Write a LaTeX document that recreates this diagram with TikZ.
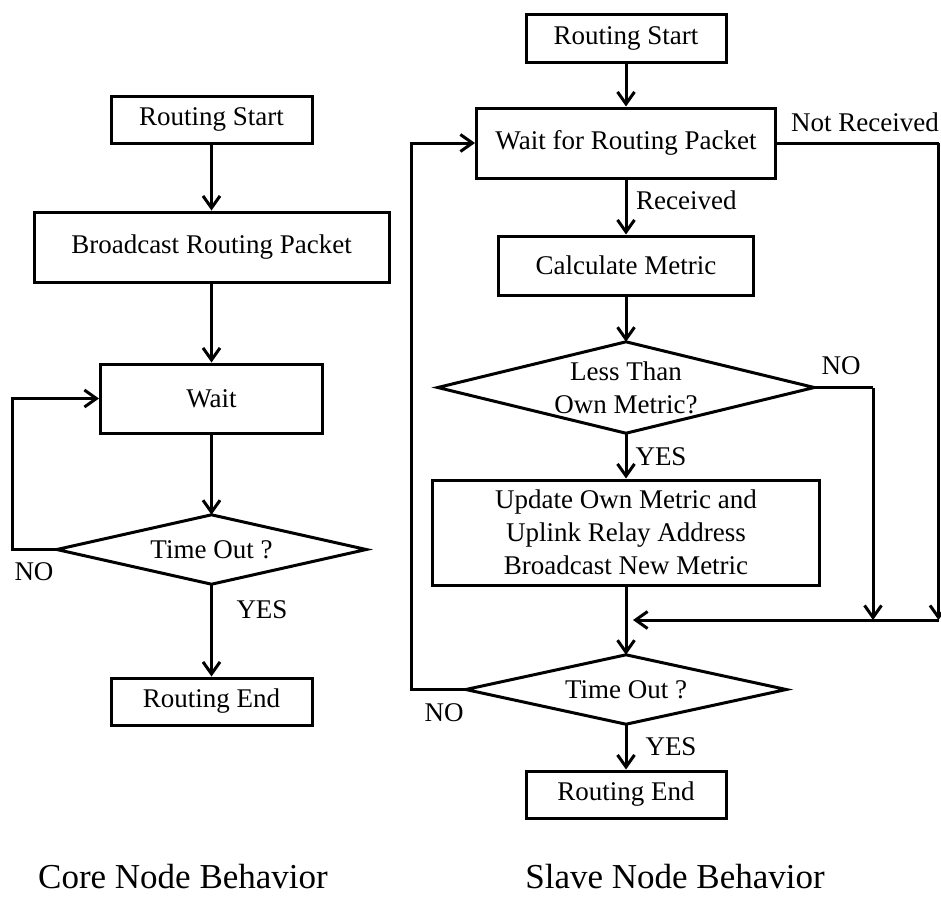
\documentclass[tikz,border=0pt]{standalone}
\usepackage{fontspec}
\setmainfont{Liberation Serif}
\usetikzlibrary{arrows.meta}
\begin{document}
\begin{tikzpicture}[x=1pt,y=-1pt,
  every node/.style={font=\fontsize{27pt}{33pt}\selectfont},
  stepbox/.style={draw, line width=3pt, inner sep=0pt, align=center},
  decision/.style={inner sep=0pt, align=center},
  edgetext/.style={inner sep=0pt},
  flow/.style={line width=3pt, -{Straight Barb[length=12pt,width=17pt]}},
  wire/.style={line width=3pt},
  caption/.style={inner sep=0pt, font=\fontsize{35pt}{40pt}\selectfont}]
\useasboundingbox (0,0) rectangle (941,898);

% ---------- core node ----------
\node[stepbox, minimum width=201pt, minimum height=47pt] (lstart) at (211.5,119.5) {Routing Start};
\node[stepbox, minimum width=355pt, minimum height=70pt] (lbcast) at (211.5,247) {Broadcast Routing Packet};
\node[stepbox, minimum width=222pt, minimum height=69pt] (lwait) at (211.5,398.5) {Wait};
\node[decision, minimum width=309pt, minimum height=69pt] (ltime) at (211.5,549.5) {Time Out ?};
\draw[wire] (ltime.north) -- (ltime.east) -- (ltime.south) -- (ltime.west) -- cycle;
\node[stepbox, minimum width=201pt, minimum height=47pt] (lend) at (211.5,701.5) {Routing End};

\draw[flow] (lstart) -- (lbcast);
\draw[flow] (lbcast) -- (lwait);
\draw[flow] (lwait) -- (ltime.north);
\draw[flow] (ltime.south) -- (lend.north);
\coordinate (lloop) at (12,549.5);
\draw[flow] (ltime.west) -- (lloop) |- (lwait.west);

\node[edgetext] (lno) at (34,572) {NO};
\node[edgetext] (lyes) at (262,610) {YES};

% ---------- slave node ----------
\node[stepbox, minimum width=200pt, minimum height=48pt] (rstart) at (626,38) {Routing Start};
\node[stepbox, minimum width=299pt, minimum height=70pt] (rwait) at (626,143) {Wait for Routing Packet};
\node[stepbox, minimum width=255pt, minimum height=59pt] (rcalc) at (626,265.5) {Calculate Metric};
\node[decision, minimum width=376pt, minimum height=91pt] (rless) at (626,387.5) {Less Than\\Own Metric?};
\draw[wire] (rless.north) -- (rless.east) -- (rless.south) -- (rless.west) -- cycle;
\node[stepbox, minimum width=387pt, minimum height=105pt] (rupd) at (626,532.5)
  {Update Own Metric and\\Uplink Relay Address\\Broadcast New Metric};
\node[decision, minimum width=320pt, minimum height=69pt] (rtime) at (626,689.5) {Time Out ?};
\draw[wire] (rtime.north) -- (rtime.east) -- (rtime.south) -- (rtime.west) -- cycle;
\node[stepbox, minimum width=200pt, minimum height=47pt] (rend) at (626,794.5) {Routing End};

\draw[flow] (rstart) -- (rwait);
\draw[flow] (rwait) -- (rcalc);
\draw[flow] (rcalc) -- (rless.north);
\draw[flow] (rless.south) -- (rupd.north);
\draw[flow] (rupd.south) -- (rtime.north);
\draw[flow] (rtime.south) -- (rend.north);

\coordinate (nrtop) at (938.5,143);
\coordinate (nrbot) at (938.5,620);
\coordinate (notop) at (873,387.5);
\coordinate (nobot) at (873,620);
\coordinate (merge) at (633,620);
\draw[wire] (rwait.east) -- (nrtop);
\draw[flow] (nrtop) -- (nrbot);
\draw[wire] (rless.east) -- (notop);
\draw[flow] (notop) -- (nobot);
\draw[flow] (nrbot) -- (merge);

\coordinate (rloop) at (411,689.5);
\draw[flow] (rtime.west) -- (rloop) |- (rwait.west);

\node[edgetext, anchor=west] (rrecv) at (636,200) {Received};
\node[edgetext, anchor=east] (rnrecv) at (939,122) {Not Received};
\node[edgetext] (rno1) at (841,366) {NO};
\node[edgetext] (ryes1) at (661,457) {YES};
\node[edgetext] (rno2) at (444,713) {NO};
\node[edgetext] (ryes2) at (671,747) {YES};

% ---------- captions ----------
\node[caption] (ccore) at (183,877) {Core Node Behavior};
\node[caption] (cslave) at (675,877) {Slave Node Behavior};
\end{tikzpicture}
\end{document}
